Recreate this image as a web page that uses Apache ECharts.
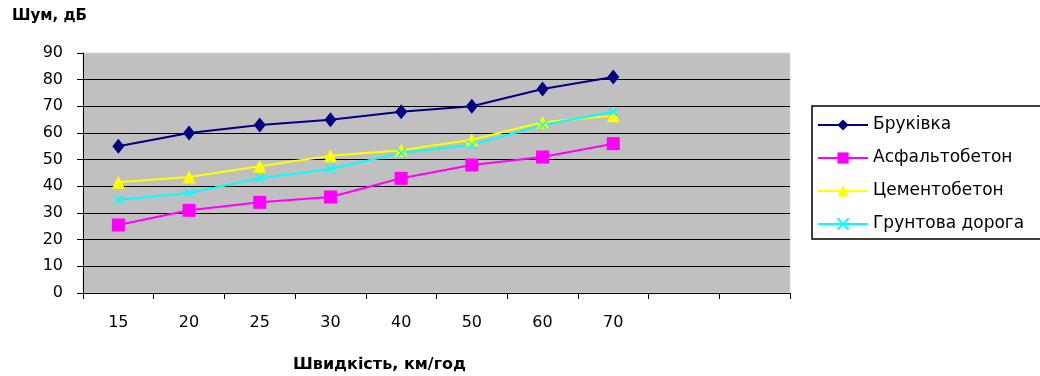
<!DOCTYPE html>
<html>
<head>
<meta charset="utf-8">
<script src="https://cdn.jsdelivr.net/npm/echarts@6/dist/echarts.min.js"></script>
<style>
  html, body { margin: 0; padding: 0; background: #fff; }
  #chart { width: 1040px; height: 376px; }
</style>
</head>
<body>
<div id="chart"></div>
<script>
// швидкість, км/год (дві останні категорії порожні, як у вихідній діаграмі)
const categories = ['15', '20', '25', '30', '40', '50', '60', '70', '', ''];

const brukivka = [55, 60, 63, 65, 68, 70, 76.5, 81];
const asfaltobeton = [25.5, 31, 34, 36, 43, 48, 51, 56];
const tsementobeton = [41.5, 43.5, 47.5, 51.5, 53.5, 57.5, 64, 66.5];
const gruntova = [35, 37.5, 43, 46.5, 52.5, 55.5, 63, 68];

const seriesNames = ['Бруківка', 'Асфальтобетон', 'Цементобетон', 'Грунтова дорога'];

const chart = echarts.init(document.getElementById('chart'));

const font = 'DejaVu Sans';
const crossPath = 'path://M0,0L10,10M10,0L0,10';

function lineSeries(name, data, color, symbol, size, hollow) {
    return {
        name: name,
        type: 'line',
        data: data,
        symbol: symbol,
        symbolSize: size,
        showAllSymbol: true,
        lineStyle: { color: color, width: 2 },
        itemStyle: hollow
            ? { color: 'rgba(0,0,0,0)', borderColor: color, borderWidth: 1.5 }
            : { color: color },
        emphasis: { disabled: true },
        animation: false
    };
}

const options = {
    animation: false,
    title: [
        {
            text: 'Шум, дБ',
            left: 12, top: 9, padding: 0,
            textStyle: { fontFamily: font, fontSize: 15, fontWeight: 'bold', color: '#000' }
        },
        {
            text: 'Швидкість, км/год',
            left: 293, top: 357, padding: 0,
            textStyle: { fontFamily: font, fontSize: 16, fontWeight: 'bold', color: '#000' }
        }
    ],
    grid: {
        left: 83, right: 250, top: 53, bottom: 83,
        show: true,
        backgroundColor: '#c0c0c0',
        borderColor: '#d8d8d8',
        borderWidth: 1
    },
    legend: {
        left: 812, top: 106,
        orient: 'vertical',
        padding: [9, 60, 5, 5],
        itemWidth: 50, itemHeight: 14, itemGap: 13,
        borderColor: '#000', borderWidth: 1.5,
        backgroundColor: '#fff',
        textStyle: { fontFamily: font, fontSize: 17, color: '#000', lineHeight: 20 },
        data: seriesNames
    },
    xAxis: {
        type: 'category',
        data: categories,
        boundaryGap: true,
        axisLine: { lineStyle: { color: '#000', width: 1 } },
        axisTick: { show: true, length: 6, lineStyle: { color: '#000' } },
        axisLabel: { fontFamily: font, fontSize: 16, color: '#000', margin: 22, interval: 0 },
        splitLine: { show: false }
    },
    yAxis: {
        type: 'value',
        min: 0, max: 90, interval: 10,
        axisLine: { show: true, lineStyle: { color: '#000', width: 1 } },
        axisTick: { show: true, length: 6, lineStyle: { color: '#000' } },
        axisLabel: { fontFamily: font, fontSize: 16, color: '#000', margin: 20 },
        splitLine: { show: true, showMaxLine: false, lineStyle: { color: '#000', width: 1.2 } }
    },
    series: [
        lineSeries(seriesNames[0], brukivka, '#000080', 'diamond', [12, 15], false),
        lineSeries(seriesNames[1], asfaltobeton, '#ff00ff', 'rect', 13, false),
        lineSeries(seriesNames[2], tsementobeton, '#ffff00', 'triangle', 13, false),
        lineSeries(seriesNames[3], gruntova, '#00ffff', crossPath, 9, true)
    ]
};

chart.setOption(options);
</script>
</body>
</html>
